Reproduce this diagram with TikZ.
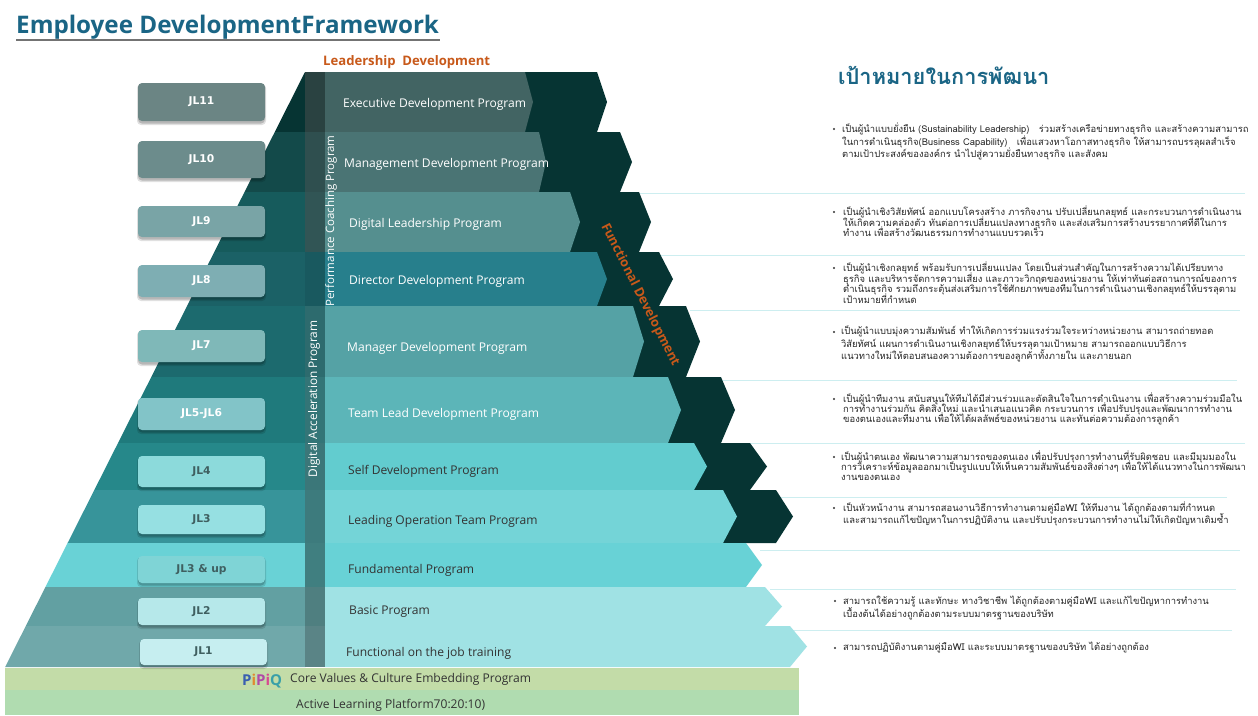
\documentclass[tikz,border=0pt]{standalone}
\usepackage{fontspec}
\setmainfont{Open Sans}
\newfontfamily\thaifont[Script=Thai]{Loma}
\newfontfamily\pillfont{DejaVu Sans}
\setlength{\lineskiplimit}{-100pt}
\setlength{\lineskip}{0pt}
\setlength{\normallineskiplimit}{-100pt}
\setlength{\normallineskip}{0pt}
\definecolor{darkarrow}{HTML}{063433}
\definecolor{ruleline}{HTML}{CDEEF0}
\definecolor{orangetext}{HTML}{C8591A}
\definecolor{titleblue}{HTML}{1A6585}
\newcommand{\tier}[7]{%
  \definecolor{tA}{HTML}{#3}\definecolor{tB}{HTML}{#4}\definecolor{tC}{HTML}{#5}%
  \fill[tA] ({305-(#1-72)*0.504},#1) -- (305.5,#1) -- (305.5,#2) -- ({305-(#2-72)*0.504},#2) -- cycle;
  \fill[tB] (305,#1) rectangle (325.5,#2);
  \fill[tC] (325,#1) -- (#6,#1) -- (#7,{(#1+#2)/2}) -- (#6,#2) -- (325,#2) -- cycle;
}
\newcommand{\darkarr}[4]{%
  \fill[darkarrow] (500,#1) -- (#3,#1) -- (#4,{(#1+#2)/2}) -- (#3,#2) -- (500,#2) -- cycle;
}
\newcommand{\pill}[7]{%
  \definecolor{pA}{HTML}{#5}\definecolor{pB}{HTML}{#6}%
  \fill[black,opacity=.12,rounded corners=4pt] (#2-1,#3+1) rectangle (#2+127+1,#4+4);
  \fill[black,opacity=.18,rounded corners=4pt] (#2,#3+1) rectangle (#2+127,#4+2.5);
  \node[pillbox,fill=pA,text=pB,minimum width=127pt,minimum height={#4-#3}] (#1) at (#2+63.5,{(#3+#4)/2}) {\raisebox{-1.2pt}{#7}};
}
\tikzset{
  pillbox/.style={rounded corners=4pt,inner sep=0pt,font=\fontsize{10.7}{12}\selectfont\pillfont\bfseries},
  prog/.style={anchor=west,inner sep=0pt,yshift=-1.5pt,font=\fontsize{12.05}{15}\selectfont},
  goal/.style={anchor=north west,inner sep=0pt,align=left,text=black!85,font=\fontsize{9.4}{#1}\selectfont\thaifont},
  dotmark/.style={circle,fill=black!80,inner sep=0pt,minimum size=2.4pt},
  rule/.style={draw=ruleline,line width=1pt},
}
\begin{document}
\begin{tikzpicture}[x=1pt,y=-1pt]
\useasboundingbox (0,0) rectangle (1258,715);
\fill[white] (0,0) rectangle (1258,715);
% title
\node[anchor=west,inner sep=0pt,text=titleblue,font=\fontsize{24.2}{28}\selectfont\bfseries] (title) at (16,27) {Employee DevelopmentFramework};
\draw[black!55,line width=2pt] (16,40) -- (440,40);
\node[anchor=west,inner sep=0pt,text=orangetext,font=\fontsize{13.1}{16}\selectfont\bfseries] (lead) at (323,62) {Leadership\ \ Development};
% horizontal rules on the right
\foreach \yy/\xa/\xb in {193/640/1245,255/660/1245,310/690/1240,380/720/1237,443/735/1245,497/770/1227,550/760/1240,589/770/1236,630/790/1232}
  \draw[rule] (\xa,\yy) -- (\xb,\yy);
% dark arrows
\darkarr{72}{132}{597}{607}
\darkarr{132}{192}{620}{632}
\darkarr{192}{252}{639}{651}
\darkarr{252}{306}{659}{673}
\darkarr{306}{377}{686}{700}
\darkarr{377}{443}{721}{735}
\darkarr{443}{490}{750}{767}
\darkarr{490}{543}{776}{793}
% tiers
\tier{72}{132}{063433}{2A4241}{426463}{525}{533}
\tier{132}{192}{134A4A}{2F4F4F}{4A7474}{539}{546}
\tier{192}{252}{165B5C}{315555}{558F8F}{570}{580}
\tier{252}{306}{1B6166}{19595F}{277F8C}{597}{607}
\tier{306}{377}{1C6A6E}{2D6B6E}{55A2A5}{633}{644}
\tier{377}{443}{1F7A7C}{337577}{5CB5B8}{668}{681}
\tier{443}{490}{26888A}{3B7779}{62CCCF}{694}{707}
\tier{490}{543}{37949A}{3D7B7D}{74D4D7}{723}{737}
\tier{543}{587}{69D2D6}{407F80}{68D2D6}{746}{762}
\tier{587}{626}{62A0A2}{4F7F80}{A0E2E4}{765}{782}
\tier{626}{667}{70A8AA}{5A8486}{A0E2E4}{790}{807}
% foundation
\fill[fill={rgb,255:red,195;green,220;blue,168}] (5,668) rectangle (799,690);
\fill[fill={rgb,255:red,176;green,220;blue,176}] (5,690) rectangle (799,715);
% pills
\pill{jl11}{138}{83}{121}{6B8584}{FFFFFF}{JL11}
\pill{jl10}{138}{141}{178}{6C8C8C}{FFFFFF}{JL10}
\pill{jl9}{138}{206}{237}{79A4A6}{FFFFFF}{JL9}
\pill{jl8}{138}{265}{297}{7EAEB3}{FFFFFF}{JL8}
\pill{jl7}{138}{330}{362}{7FB8B8}{FFFFFF}{JL7}
\pill{jl56}{138}{398}{430}{82C4C8}{FFFFFF}{JL5-JL6}
\pill{jl4}{138}{456}{487}{8CDADB}{3F5F60}{JL4}
\pill{jl3}{138}{505}{534}{96E0E2}{3F5F60}{JL3}
\pill{jl3up}{138}{556}{583}{7FD4D6}{3F5F60}{JL3 \& up}
\pill{jl2}{138}{598}{625}{B6E8EA}{3F5F60}{JL2}
\pill{jl1}{140}{639}{665}{C6EEF0}{3F5F60}{JL1}
% program names
\node[prog,text=white] (p1) at (343,103) {Executive Development Program};
\node[prog,text=white] (p2) at (344,163) {Management Development Program};
\node[prog,text=white] (p3) at (349,223) {Digital Leadership Program};
\node[prog,text=white] (p4) at (349,280) {Director Development Program};
\node[prog,text=white] (p5) at (347,347) {Manager Development Program};
\node[prog,text=white] (p6) at (348,413) {Team Lead Development Program};
\node[prog,text=black!80] (p7) at (348,470) {Self Development Program};
\node[prog,text=black!80] (p8) at (348,520) {Leading Operation Team Program};
\node[prog,text=black!80] (p9) at (348,569) {Fundamental Program};
\node[prog,text=black!80] (p10) at (349,610) {Basic Program};
\node[prog,text=black!80] (p11) at (346,652) {Functional on the job training};
% vertical labels
\node[rotate=90,inner sep=0pt,text=white,font=\fontsize{11.5}{15}\selectfont] (perf) at (331,221) {Performance Coaching Program};
\node[rotate=90,inner sep=0pt,text=white,font=\fontsize{11.85}{15}\selectfont] (digi) at (314,399) {Digital Acceleration Program};
\node[rotate=-63,inner sep=0pt,text=orangetext,font=\fontsize{12.9}{15}\selectfont\bfseries] (func) at (640,295) {Functional Development};
% foundation labels
\node[prog,text=black!80] (core) at (290,678) {Core Values \& Culture Embedding Program};
\node[prog,text=black!80] (act) at (296,704) {Active Learning Platform70:20:10)};
\node[inner sep=0pt,anchor=west,font=\fontsize{15}{16}\selectfont\bfseries] (logo) at (242,681) {\textcolor[HTML]{3A5FB0}{P}\textcolor[HTML]{E08A30}{i}\textcolor[HTML]{B04AA8}{P}\textcolor[HTML]{D84A90}{i}\textcolor[HTML]{3AA0A8}{Q}};
% goals
\node[anchor=west,inner sep=0pt,text=titleblue,font=\fontsize{21.8}{24}\selectfont\bfseries\thaifont] (goalhead) at (838,75) {เป้าหมายในการพัฒนา};
\node[dotmark] (d1) at (834,129) {};
\node[goal=12.5pt] (g1) at (842,123) {เป็นผู้นำแบบยั่งยืน (Sustainability Leadership)\quad ร่วมสร้างเครือข่ายทางธุรกิจ และสร้างความสามารถ\\ในการดำเนินธุรกิจ(Business Capability)\quad เพื่อแสวงหาโอกาสทางธุรกิจ ให้สามารถบรรลุผลสำเร็จ\\ตามเป้าประสงค์ขององค์กร นำไปสู่ความยั่งยืนทางธุรกิจ และสังคม};
\node[dotmark] (d2) at (834,212) {};
\node[goal=10.5pt] (g2) at (843,206) {เป็นผู้นำเชิงวิสัยทัศน์ ออกแบบโครงสร้าง ภารกิจงาน ปรับเปลี่ยนกลยุทธ์ และกระบวนการดำเนินงาน\\ให้เกิดความคล่องตัว ทันต่อการเปลี่ยนแปลงทางธุรกิจ และส่งเสริมการสร้างบรรยากาศที่ดีในการ\\ทำงาน เพื่อสร้างวัฒนธรรมการทำงานแบบรวดเร็ว};
\node[dotmark] (d3) at (834,268) {};
\node[goal=10.5pt] (g3) at (843,262) {เป็นผู้นำเชิงกลยุทธ์ พร้อมรับการเปลี่ยนแปลง โดยเป็นส่วนสำคัญในการสร้างความได้เปรียบทาง\\ธุรกิจ และบริหารจัดการความเสี่ยง และภาวะวิกฤตของหน่วยงาน ให้เท่าทันต่อสถานการณ์ของการ\\ดำเนินธุรกิจ รวมถึงกระตุ้นส่งเสริมการใช้ศักยภาพของทีมในการดำเนินงานเชิงกลยุทธ์ให้บรรลุตาม\\เป้าหมายที่กำหนด};
\node[dotmark] (d4) at (834,332) {};
\node[goal=12.5pt] (g4) at (841,326) {เป็นผู้นำแบบมุ่งความสัมพันธ์ ทำให้เกิดการร่วมแรงร่วมใจระหว่างหน่วยงาน สามารถถ่ายทอด\\วิสัยทัศน์ แผนการดำเนินงานเชิงกลยุทธ์ให้บรรลุตามเป้าหมาย สามารถออกแบบวิธีการ\\แนวทางใหม่ให้ตอบสนองความต้องการของลูกค้าทั้งภายใน และภายนอก};
\node[dotmark] (d5) at (834,399) {};
\node[goal=9.8pt] (g5) at (843,393) {เป็นผู้นำทีมงาน สนับสนุนให้ทีมได้มีส่วนร่วมและตัดสินใจในการดำเนินงาน เพื่อสร้างความร่วมมือใน\\การทำงานร่วมกัน คิดสิ่งใหม่ และนำเสนอแนวคิด กระบวนการ เพื่อปรับปรุงและพัฒนาการทำงาน\\ของตนเองและทีมงาน เพื่อให้ได้ผลลัพธ์ของหน่วยงาน และทันต่อความต้องการลูกค้า};
\node[dotmark] (d6) at (834,457) {};
\node[goal=10pt] (g6) at (841,451) {เป็นผู้นำตนเอง พัฒนาความสามารถของตนเอง เพื่อปรับปรุงการทำงานที่รับผิดชอบ และมีมุมมองใน\\การวิเคราะห์ข้อมูลออกมาเป็นรูปแบบให้เห็นความสัมพันธ์ของสิ่งต่างๆ เพื่อให้ได้แนวทางในการพัฒนา\\งานของตนเอง};
\node[dotmark] (d7) at (834,508) {};
\node[goal=12pt] (g7) at (843,502) {เป็นหัวหน้างาน สามารถสอนงานวิธีการทำงานตามคู่มือWI ให้ทีมงาน ได้ถูกต้องตามที่กำหนด\\และสามารถแก้ไขปัญหาในการปฏิบัติงาน และปรับปรุงกระบวนการทำงานไม่ให้เกิดปัญหาเดิมซ้ำ};
\node[dotmark] (d8) at (835,601) {};
\node[goal=13pt] (g8) at (843,596) {สามารถใช้ความรู้ และทักษะ ทางวิชาชีพ ได้ถูกต้องตามคู่มือWI และแก้ไขปัญหาการทำงาน\\เบื้องต้นได้อย่างถูกต้องตามระบบมาตรฐานของบริษัท};
\node[dotmark] (d9) at (835,648) {};
\node[goal=12pt] (g9) at (843,642) {สามารถปฏิบัติงานตามคู่มือWI และระบบมาตรฐานของบริษัท ได้อย่างถูกต้อง};
\end{tikzpicture}
\end{document}
